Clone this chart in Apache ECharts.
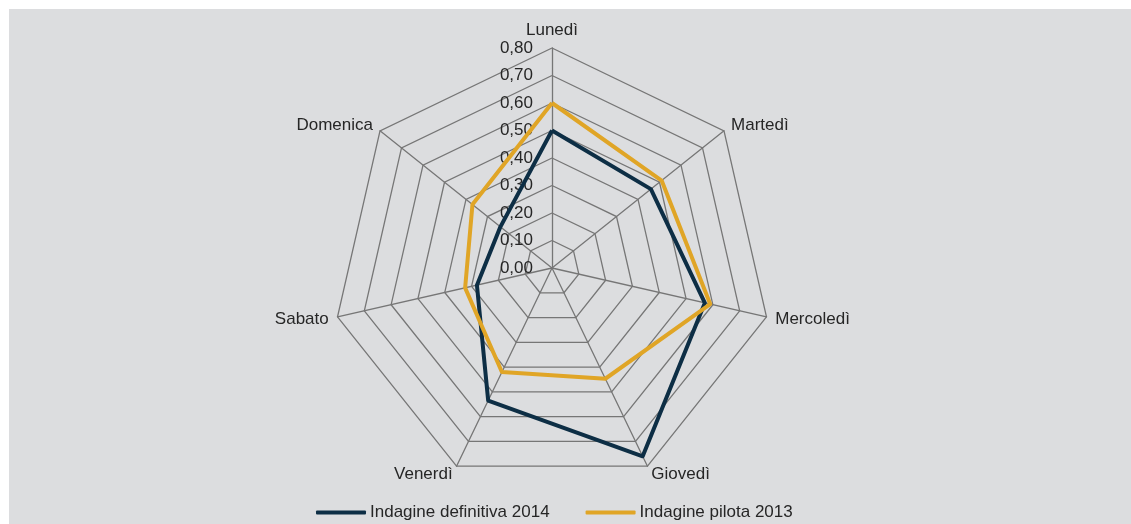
<!DOCTYPE html>
<html>
<head>
<meta charset="utf-8">
<script src="https://cdn.jsdelivr.net/npm/echarts@6/dist/echarts.min.js"></script>
<style>
  html, body { margin: 0; padding: 0; background: #fff; }
  #chart {
    position: absolute;
    left: 9px;
    top: 9px;
    width: 1122px;
    height: 515px;
    background: #dcdddf;
  }
</style>
</head>
<body>
<div id="chart"></div>
<script>
// giorni della settimana (assi del radar, in senso orario)
const days = ["Lunedì", "Martedì", "Mercoledì", "Giovedì", "Venerdì", "Sabato", "Domenica"];
const seriesNames = ["Indagine definitiva 2014", "Indagine pilota 2013"];
const definitiva2014 = [0.50, 0.46, 0.57, 0.76, 0.535, 0.28, 0.24];
const pilota2013 = [0.60, 0.51, 0.59, 0.447, 0.42, 0.324, 0.37];
const axisMax = 0.8;

// echarts disegna gli assi in senso antiorario: primo elemento fisso, il resto invertito
const clockwise = (arr) => [arr[0]].concat(arr.slice(1).reverse());

const chart = echarts.init(document.getElementById("chart"));

const indicator = clockwise(days).map((d, i) => {
  const item = { name: d, min: 0, max: axisMax };
  if (i === 0) {
    // solo il primo asse mostra le etichette
    item.axisLabel = { show: true };
  }
  return item;
});

chart.setOption({
  animation: false,
  textStyle: { fontFamily: "Liberation Sans, Arial, sans-serif" },
  legend: {
    top: 490,
    left: 302,
    itemWidth: 50,
    itemHeight: 4,
    itemGap: 36,
    icon: "roundRect",
    textStyle: { fontSize: 17, color: "#262626", padding: [0, 0, 0, -1] },
    data: seriesNames
  },
  radar: {
    center: [543, 259],
    radius: 220,
    startAngle: 90,
    shape: "polygon",
    splitNumber: 8,
    indicator: indicator,
    axisName: { color: "#262626", fontSize: 17 },
    nameGap: 9,
    axisLine: { lineStyle: { color: "#767676", width: 1.3 } },
    splitLine: { lineStyle: { color: "#767676", width: 1.3 } },
    splitArea: { show: false },
    axisTick: { show: false },
    axisLabel: {
      show: false,
      color: "#262626",
      fontSize: 17,
      margin: 19,
      formatter: (v) => v.toFixed(2).replace(".", ",")
    }
  },
  series: [
    {
      type: "radar",
      symbol: "none",
      data: [
        {
          name: seriesNames[0],
          value: clockwise(definitiva2014),
          lineStyle: { color: "#0d2e45", width: 4 },
          itemStyle: { color: "#0d2e45" }
        },
        {
          name: seriesNames[1],
          value: clockwise(pilota2013),
          lineStyle: { color: "#e0a526", width: 4 },
          itemStyle: { color: "#e0a526" }
        }
      ]
    }
  ]
});
</script>
</body>
</html>
